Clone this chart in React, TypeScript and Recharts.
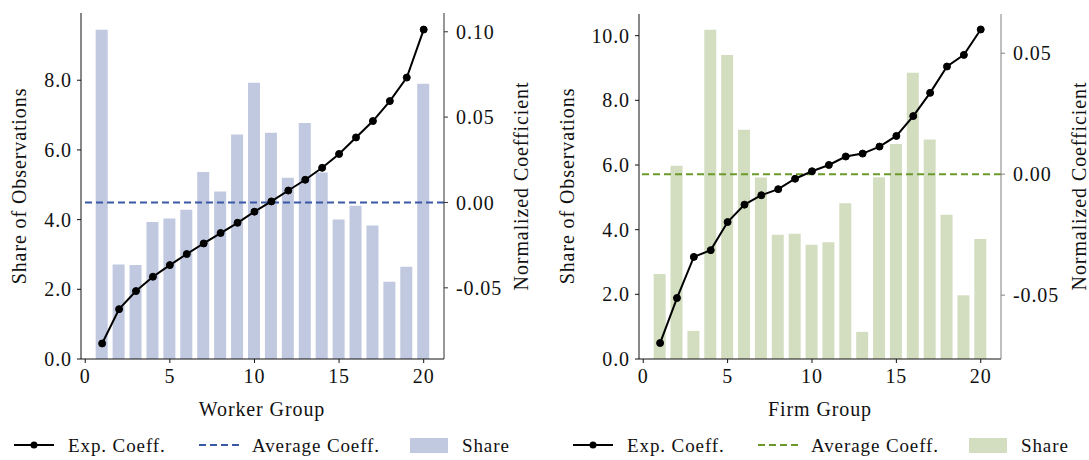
import { ComposedChart, Bar, Line, XAxis, YAxis, ReferenceLine } from 'recharts';

const groups = [1, 2, 3, 4, 5, 6, 7, 8, 9, 10, 11, 12, 13, 14, 15, 16, 17, 18, 19, 20];

const workerShare = [9.45, 2.71, 2.7, 3.93, 4.03, 4.28, 5.37, 4.81, 6.44, 7.93, 6.49, 5.2, 6.77, 5.35, 4.0, 4.4, 3.83, 2.22, 2.65, 7.9];
const workerCoef = [-0.0826, -0.0625, -0.0519, -0.0435, -0.0367, -0.0302, -0.024, -0.0179, -0.0119, -0.0054, 0.0006, 0.007, 0.0133, 0.0203, 0.0284, 0.0381, 0.0477, 0.0594, 0.0732, 0.1013];

const firmShare = [2.63, 5.98, 0.87, 10.18, 9.4, 7.09, 5.61, 3.84, 3.87, 3.53, 3.61, 4.82, 0.84, 5.62, 6.65, 8.85, 6.79, 4.46, 1.97, 3.71];
const firmCoef = [-0.0698, -0.0512, -0.0342, -0.0314, -0.0198, -0.0126, -0.0087, -0.0062, -0.0019, 0.0012, 0.0038, 0.0073, 0.0085, 0.0114, 0.0158, 0.024, 0.0336, 0.0445, 0.0493, 0.0598];

const avgCoeff = 0;

const xTicks = [0, 5, 10, 15, 20];
const shareTicks = [0, 2, 4, 6, 8];
const firmShareTicks = [0, 2, 4, 6, 8, 10];
const workerCoefTicks = [-0.05, 0, 0.05, 0.1];
const firmCoefTicks = [-0.05, 0, 0.05];

const FONT = '"Liberation Serif", "DejaVu Serif", serif';
const SPACING = 0.9;
const tickStyle = { fontSize: 20, fill: '#111', fontFamily: FONT, letterSpacing: SPACING };

const workerData = groups.map((g, i) => ({ group: g, share: workerShare[i], coef: workerCoef[i] }));
const firmData = groups.map((g, i) => ({ group: g, share: firmShare[i], coef: firmCoef[i] }));

type PanelProps = {
  data: { group: number; share: number; coef: number }[];
  width: number;
  top: number;
  leftW: number;
  rightW: number;
  shareDomain: [number, number];
  shareTicks: number[];
  coefDomain: [number, number];
  coefTicks: number[];
  barColor: string;
  dashColor: string;
  rightAxisColor: string;
};

const Panel = (p: PanelProps) => (
  <ComposedChart
    width={p.width}
    height={460}
    data={p.data}
    margin={{ top: p.top, right: 0, bottom: 0, left: 0 }}
  >
    <XAxis
      dataKey="group"
      type="number"
      domain={[-0.25, 21.2]}
      allowDataOverflow
      ticks={xTicks}
      height={101}
      tick={tickStyle}
      tickSize={4}
      tickMargin={6}
      stroke="#111"
    />
    <YAxis
      yAxisId="share"
      orientation="left"
      domain={p.shareDomain}
      allowDataOverflow
      ticks={p.shareTicks}
      tickFormatter={(v: number) => v.toFixed(1)}
      width={p.leftW}
      tick={tickStyle}
      tickSize={4}
      tickMargin={5}
      stroke="#111"
    />
    <YAxis
      yAxisId="coef"
      orientation="right"
      domain={p.coefDomain}
      allowDataOverflow
      ticks={p.coefTicks}
      tickFormatter={(v: number) => v.toFixed(2)}
      width={p.rightW}
      tick={tickStyle}
      tickSize={4}
      tickMargin={8}
      stroke={p.rightAxisColor}
    />
    <Bar yAxisId="share" dataKey="share" fill={p.barColor} barSize={12} isAnimationActive={false} />
    <ReferenceLine yAxisId="coef" y={avgCoeff} stroke={p.dashColor} strokeWidth={2} strokeDasharray="7 4" />
    <Line
      yAxisId="coef"
      dataKey="coef"
      type="linear"
      stroke="#000"
      strokeWidth={2}
      dot={{ r: 3.5, fill: '#000', stroke: '#000', strokeWidth: 1 }}
      isAnimationActive={false}
    />
  </ComposedChart>
);

const text = (extra: React.CSSProperties): React.CSSProperties => ({
  position: 'absolute',
  fontFamily: FONT,
  fontSize: 20,
  letterSpacing: SPACING,
  color: '#111',
  whiteSpace: 'nowrap',
  lineHeight: 1,
  ...extra,
});

const vTitle = (x: number, label: string) => (
  <div style={text({ left: x, top: 186, transform: 'translate(-50%, -50%) rotate(-90deg)' })}>{label}</div>
);

const PanelLegend = ({ x0, dashColor, barColor }: { x0: number; dashColor: string; barColor: string }) => (
  <>
    <svg style={{ position: 'absolute', left: x0, top: 437 }} width={40} height={16}>
      <line x1={0} y1={8} x2={40} y2={8} stroke="#000" strokeWidth={2} />
      <circle cx={20} cy={8} r={3.5} fill="#000" />
    </svg>
    <div style={text({ left: x0 + 54, top: 445, fontSize: 19, transform: 'translateY(-50%)' })}>Exp. Coeff.</div>
    <svg style={{ position: 'absolute', left: x0 + 185, top: 437 }} width={40} height={16}>
      <line x1={0} y1={8} x2={40} y2={8} stroke={dashColor} strokeWidth={2} strokeDasharray="7 4" />
    </svg>
    <div style={text({ left: x0 + 238, top: 445, fontSize: 19, transform: 'translateY(-50%)' })}>Average Coeff.</div>
    <div style={{ position: 'absolute', left: x0 + 396, top: 438, width: 38, height: 15, background: barColor }} />
    <div style={text({ left: x0 + 448, top: 445, fontSize: 19, transform: 'translateY(-50%)' })}>Share</div>
  </>
);

export default function App() {
  return (
    <div style={{ position: 'absolute', left: 0, top: 0, width: 1089, height: 460, background: '#fff', overflow: 'hidden' }}>
      <div style={{ position: 'absolute', left: 0, top: 0 }}>
        <Panel
          data={workerData}
          width={545}
          top={13}
          leftW={81}
          rightW={101}
          shareDomain={[0, 9.93]}
          shareTicks={shareTicks}
          coefDomain={[-0.0917, 0.111]}
          coefTicks={workerCoefTicks}
          barColor="#c1c9e1"
          dashColor="#3b58a6"
          rightAxisColor="#333"
        />
      </div>
      <div style={{ position: 'absolute', left: 545, top: 0 }}>
        <Panel
          data={firmData}
          width={544}
          top={14}
          leftW={94}
          rightW={88}
          shareDomain={[0, 10.67]}
          shareTicks={firmShareTicks}
          coefDomain={[-0.0764, 0.0662]}
          coefTicks={firmCoefTicks}
          barColor="#d3dec0"
          dashColor="#6b9a2b"
          rightAxisColor="#808080"
        />
      </div>
      {vTitle(19, 'Share of Observations')}
      {vTitle(521, 'Normalized Coefficient')}
      {vTitle(567, 'Share of Observations')}
      {vTitle(1079, 'Normalized Coefficient')}
      <div style={text({ left: 262, top: 409, transform: 'translate(-50%, -50%)' })}>Worker Group</div>
      <div style={text({ left: 820, top: 409, transform: 'translate(-50%, -50%)' })}>Firm Group</div>
      <PanelLegend x0={14} dashColor="#3b58a6" barColor="#c1c9e1" />
      <PanelLegend x0={573} dashColor="#6b9a2b" barColor="#d3dec0" />
    </div>
  );
}
